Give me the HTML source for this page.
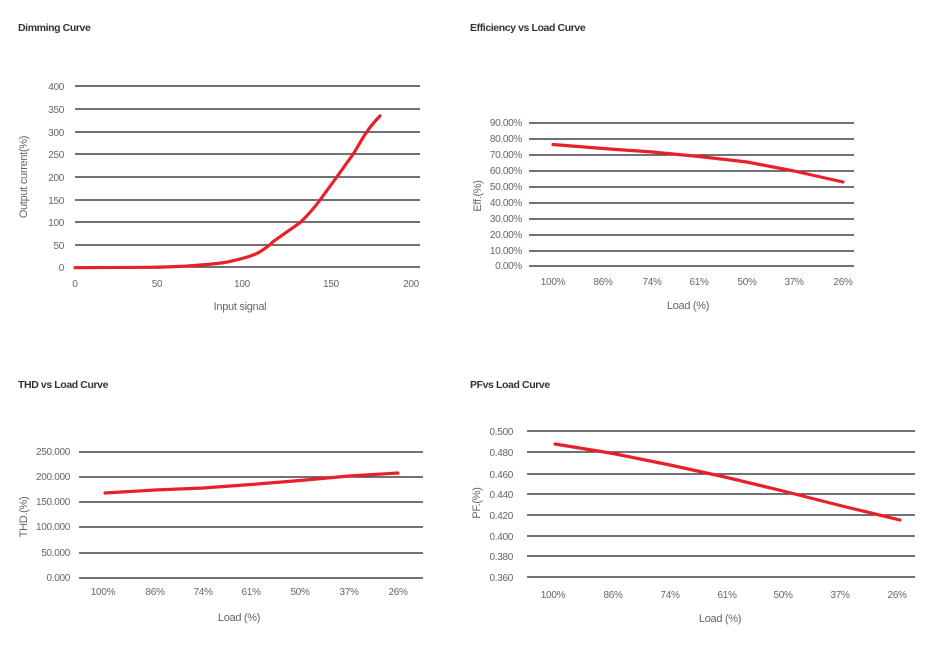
<!DOCTYPE html>
<html><head><meta charset="utf-8"><style>
body{margin:0;background:#fff;}
svg text{font-family:"Liberation Sans Narrow","Liberation Sans",sans-serif;fill:#666;font-size:10px;letter-spacing:-0.3px;}
.t{font-weight:bold;fill:#333;font-size:10.5px;letter-spacing:-0.4px;}
.g line{stroke:#444;stroke-width:1.4;}
.c{fill:none;stroke:#e8202a;stroke-width:3.2;stroke-linecap:round;stroke-linejoin:round;}
</style></head><body>
<svg width="933" height="658" xmlns="http://www.w3.org/2000/svg">
<text class="t" x="18" y="31">Dimming Curve</text>
<text class="t" x="470" y="31">Efficiency vs Load Curve</text>
<text class="t" x="18" y="388">THD vs Load Curve</text>
<text class="t" x="470" y="388">PFvs Load Curve</text>

<!-- Chart 1 -->
<g class="g">
<line x1="75" x2="420" y1="86" y2="86"/><line x1="75" x2="420" y1="109" y2="109"/><line x1="75" x2="420" y1="132" y2="132"/><line x1="75" x2="420" y1="154" y2="154"/><line x1="75" x2="420" y1="177" y2="177"/><line x1="75" x2="420" y1="200" y2="200"/><line x1="75" x2="420" y1="222" y2="222"/><line x1="75" x2="420" y1="245" y2="245"/><line x1="75" x2="420" y1="267" y2="267"/>
</g>
<g text-anchor="end">
<text x="64" y="90">400</text><text x="64" y="113">350</text><text x="64" y="136">300</text><text x="64" y="158">250</text><text x="64" y="181">200</text><text x="64" y="204">150</text><text x="64" y="226">100</text><text x="64" y="249">50</text><text x="64" y="271">0</text>
</g>
<g text-anchor="middle">
<text x="75" y="287">0</text><text x="157" y="287">50</text><text x="242" y="287">100</text><text x="331" y="287">150</text><text x="411" y="287">200</text>
<text x="240" y="310" style="font-size:11px">Input signal</text>
<text transform="translate(27,177) rotate(-90)" style="font-size:11px">Output current(%)</text>
</g>
<path class="c" d="M75,267.7 L150,267.3 C175,267 190,266 200,265 C215,264 225,263 233,260.7 C245,258 255,255 260,251.7 C266,248 270,245 273,241.7 L300,222.7 C308,215 315,207 320,200 L337,176.7 L353,154.3 C358,147 362,138 367,131.7 C372,124 376,120 380,116"/>

<!-- Chart 2 -->
<g class="g">
<line x1="529" x2="854" y1="123" y2="123"/><line x1="529" x2="854" y1="139" y2="139"/><line x1="529" x2="854" y1="155" y2="155"/><line x1="529" x2="854" y1="171" y2="171"/><line x1="529" x2="854" y1="187" y2="187"/><line x1="529" x2="854" y1="203" y2="203"/><line x1="529" x2="854" y1="219" y2="219"/><line x1="529" x2="854" y1="235" y2="235"/><line x1="529" x2="854" y1="251" y2="251"/><line x1="529" x2="854" y1="266" y2="266"/>
</g>
<g text-anchor="end" style="font-size:9px">
<text x="522" y="126">90.00%</text><text x="522" y="142">80.00%</text><text x="522" y="158">70.00%</text><text x="522" y="174">60.00%</text><text x="522" y="190">50.00%</text><text x="522" y="206">40.00%</text><text x="522" y="222">30.00%</text><text x="522" y="238">20.00%</text><text x="522" y="254">10.00%</text><text x="522" y="269">0.00%</text>
</g>
<g text-anchor="middle" style="font-size:9px">
<text x="553" y="285">100%</text><text x="603" y="285">86%</text><text x="652" y="285">74%</text><text x="699" y="285">61%</text><text x="747" y="285">50%</text><text x="794" y="285">37%</text><text x="843" y="285">26%</text>
<text x="688" y="309" style="font-size:11px">Load (%)</text>
<text transform="translate(481,196) rotate(-90)" style="font-size:11px">Eff.(%)</text>
</g>
<path class="c" d="M553,144.5 L603,148.5 L652,152 L699,156.5 L747,162 L794,171 L843,182"/>

<!-- Chart 3 -->
<g class="g">
<line x1="79" x2="423" y1="452" y2="452"/><line x1="79" x2="423" y1="477" y2="477"/><line x1="79" x2="423" y1="502" y2="502"/><line x1="79" x2="423" y1="527" y2="527"/><line x1="79" x2="423" y1="553" y2="553"/><line x1="79" x2="423" y1="578" y2="578"/>
</g>
<g text-anchor="end" style="font-size:9px">
<text x="70" y="455">250.000</text><text x="70" y="480">200.000</text><text x="70" y="505">150.000</text><text x="70" y="530">100.000</text><text x="70" y="556">50.000</text><text x="70" y="581">0.000</text>
</g>
<g text-anchor="middle" style="font-size:9px">
<text x="103" y="595">100%</text><text x="155" y="595">86%</text><text x="203" y="595">74%</text><text x="251" y="595">61%</text><text x="300" y="595">50%</text><text x="349" y="595">37%</text><text x="398" y="595">26%</text>
<text x="239" y="621" style="font-size:11px">Load (%)</text>
<text transform="translate(27,517) rotate(-90)" style="font-size:11px">THD.(%)</text>
</g>
<path class="c" d="M105,493 L155,490 L203,488 L251,484.5 L300,480.5 L349,476 L398,473"/>

<!-- Chart 4 -->
<g class="g">
<line x1="527" x2="915" y1="431" y2="431"/><line x1="527" x2="915" y1="452" y2="452"/><line x1="527" x2="915" y1="474" y2="474"/><line x1="527" x2="915" y1="494" y2="494"/><line x1="527" x2="915" y1="515" y2="515"/><line x1="527" x2="915" y1="536" y2="536"/><line x1="527" x2="915" y1="556" y2="556"/><line x1="527" x2="915" y1="577" y2="577"/>
</g>
<g text-anchor="end" style="font-size:9.5px">
<text x="513" y="435">0.500</text><text x="513" y="456">0.480</text><text x="513" y="478">0.460</text><text x="513" y="498">0.440</text><text x="513" y="519">0.420</text><text x="513" y="540">0.400</text><text x="513" y="560">0.380</text><text x="513" y="581">0.360</text>
</g>
<g text-anchor="middle" style="font-size:9px">
<text x="553" y="598">100%</text><text x="613" y="598">86%</text><text x="670" y="598">74%</text><text x="727" y="598">61%</text><text x="783" y="598">50%</text><text x="840" y="598">37%</text><text x="897" y="598">26%</text>
<text x="720" y="622" style="font-size:11px">Load (%)</text>
<text transform="translate(480,503) rotate(-90)" style="font-size:11px">PF.(%)</text>
</g>
<path class="c" d="M555,444 L613,453.5 L670,465 L727,477.5 L783,491 L840,505.5 L900,520"/>
</svg>
</body></html>
